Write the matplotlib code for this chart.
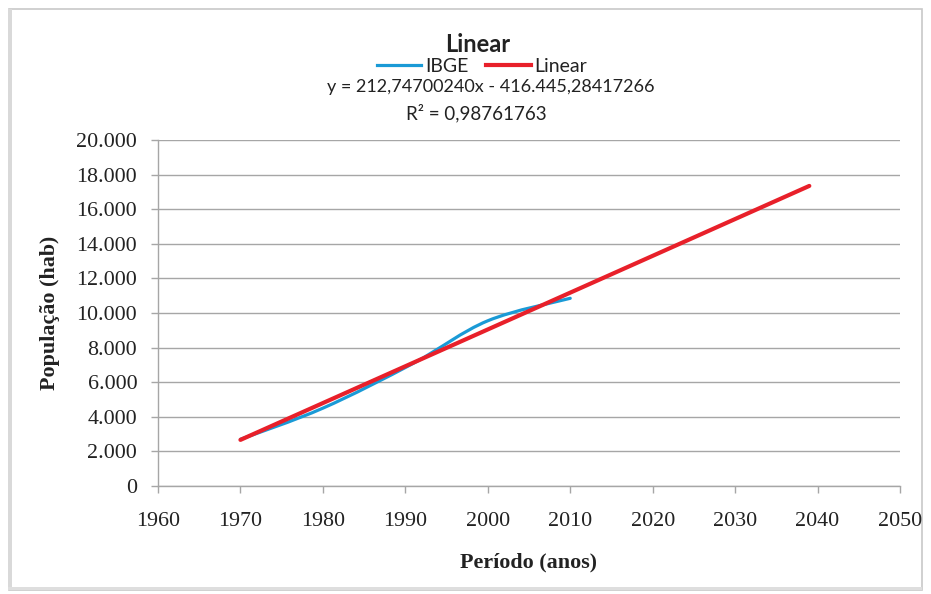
import matplotlib
matplotlib.use("Agg")
import matplotlib.pyplot as plt
from matplotlib.path import Path
from matplotlib.patches import PathPatch, Rectangle
from matplotlib.lines import Line2D
from matplotlib.ticker import FuncFormatter, MultipleLocator
import numpy as np

# ---- data ----
ibge_years = [1970, 1980, 1991, 2000, 2010]
ibge_pop = [2700, 4500, 7100, 9550, 10850]
slope = 212.74700240
intercept = -416445.28417266
trend_years = [1970, 2039]
trend_pop = [slope * x + intercept for x in trend_years]
x_ticks = [1960, 1970, 1980, 1990, 2000, 2010, 2020, 2030, 2040, 2050]
title = "Linear"
eq_text = "y = 212,74700240x - 416.445,28417266"
r2_text = "R² = 0,98761763"

W, H = 931, 594
fig = plt.figure(figsize=(W / 100, H / 100), dpi=100)

# outer frame
fig.patches.append(Rectangle((9 / W, 1 - 590 / H), 913 / W, 581 / H, transform=fig.transFigure,
                             facecolor="white", edgecolor="#c8c8c8", lw=1.2, zorder=-2))
fig.patches.append(Rectangle((8 / W, 1 - 590 / H), 4 / W, 581 / H, transform=fig.transFigure,
                             facecolor="#d9d9d9", edgecolor="none", zorder=-1))
fig.patches.append(Rectangle((8 / W, 1 - 590 / H), 914 / W, 3 / H, transform=fig.transFigure,
                             facecolor="#dedede", edgecolor="none", zorder=-1))

L, R, T, B = 158, 900, 140, 486
ax = fig.add_axes([L / W, 1 - B / H, (R - L) / W, (B - T) / H])
ax.set_zorder(2)
ax.set_facecolor("none")
ax.set_xlim(1960, 2050)
ax.set_ylim(0, 20000)
ax.set_xticks(x_ticks)
ax.yaxis.set_major_locator(MultipleLocator(2000))
ax.yaxis.set_major_formatter(FuncFormatter(lambda v, p: f"{int(v):,}".replace(",", ".")))
ax.grid(axis="y", color="#a6a6a6", lw=1.0)
ax.set_axisbelow(True)
for s in ["top", "right"]:
    ax.spines[s].set_visible(False)
for s in ["left", "bottom"]:
    ax.spines[s].set_color("#a6a6a6")
    ax.spines[s].set_linewidth(1.0)
ax.tick_params(colors="#a6a6a6", length=5, width=1.0, labelcolor="#222222", labelsize=15.8)
for lab in ax.get_xticklabels() + ax.get_yticklabels():
    lab.set_fontfamily("Liberation Serif")
ax.tick_params(axis="x", pad=14)
ax.tick_params(axis="y", pad=10)

# smoothed IBGE line (Excel-style Bezier smoothing)
xs, ys = np.array(ibge_years, float), np.array(ibge_pop, float)
n = len(xs)
verts = [(xs[0], ys[0])]
codes = [Path.MOVETO]
for i in range(n - 1):
    p0 = np.array([xs[max(i - 1, 0)], ys[max(i - 1, 0)]])
    p1 = np.array([xs[i], ys[i]])
    p2 = np.array([xs[i + 1], ys[i + 1]])
    p3 = np.array([xs[min(i + 2, n - 1)], ys[min(i + 2, n - 1)]])
    c1 = p1 + (p2 - p0) / 6
    c2 = p2 - (p3 - p1) / 6
    verts += [tuple(c1), tuple(c2), tuple(p2)]
    codes += [Path.CURVE4] * 3
ax.add_patch(PathPatch(Path(verts, codes), facecolor="none", edgecolor="#1a9ad6", lw=2.3,
                       capstyle="round", zorder=3))
ax.plot(trend_years, trend_pop, color="#e8202a", lw=3.0, solid_capstyle="round", zorder=4)

ax.set_xlabel("Período (anos)", fontfamily="Liberation Serif", fontweight="bold", fontsize=15.8,
              color="#222222", va="center")
ax.set_ylabel("População (hab)", fontfamily="Liberation Serif", fontweight="bold", fontsize=15.8,
              color="#222222", va="center")
ax.xaxis.set_label_coords(0.5, (B - 562) / (B - T))
ax.yaxis.set_label_coords((50 - L) / (R - L), 0.5)

# title, legend and equation
fig.text(478 / W, 1 - 44 / H, title, ha="center", va="center", fontsize=17, fontweight="bold",
         fontfamily="Lato", color="#222222")
handles = [Line2D([], [], color="#1a9ad6", lw=2.3), Line2D([], [], color="#e8202a", lw=3.0)]
fig.legend(handles, ["IBGE", "Linear"], loc="center", bbox_to_anchor=(482 / W, 1 - 66 / H), ncol=2,
           frameon=False, prop={"family": "Lato", "size": 14}, handlelength=2.3, handletextpad=0.2,
           columnspacing=0.9, borderpad=0, labelcolor="#222222")
fig.text(491 / W, 1 - 87 / H, eq_text, ha="center", va="center", fontsize=13, fontfamily="Lato",
         color="#222222")
fig.text(476 / W, 1 - 113 / H, r2_text, ha="center", va="center", fontsize=13.5, fontfamily="Lato",
         color="#222222")

fig.savefig("out.png", dpi=100)
